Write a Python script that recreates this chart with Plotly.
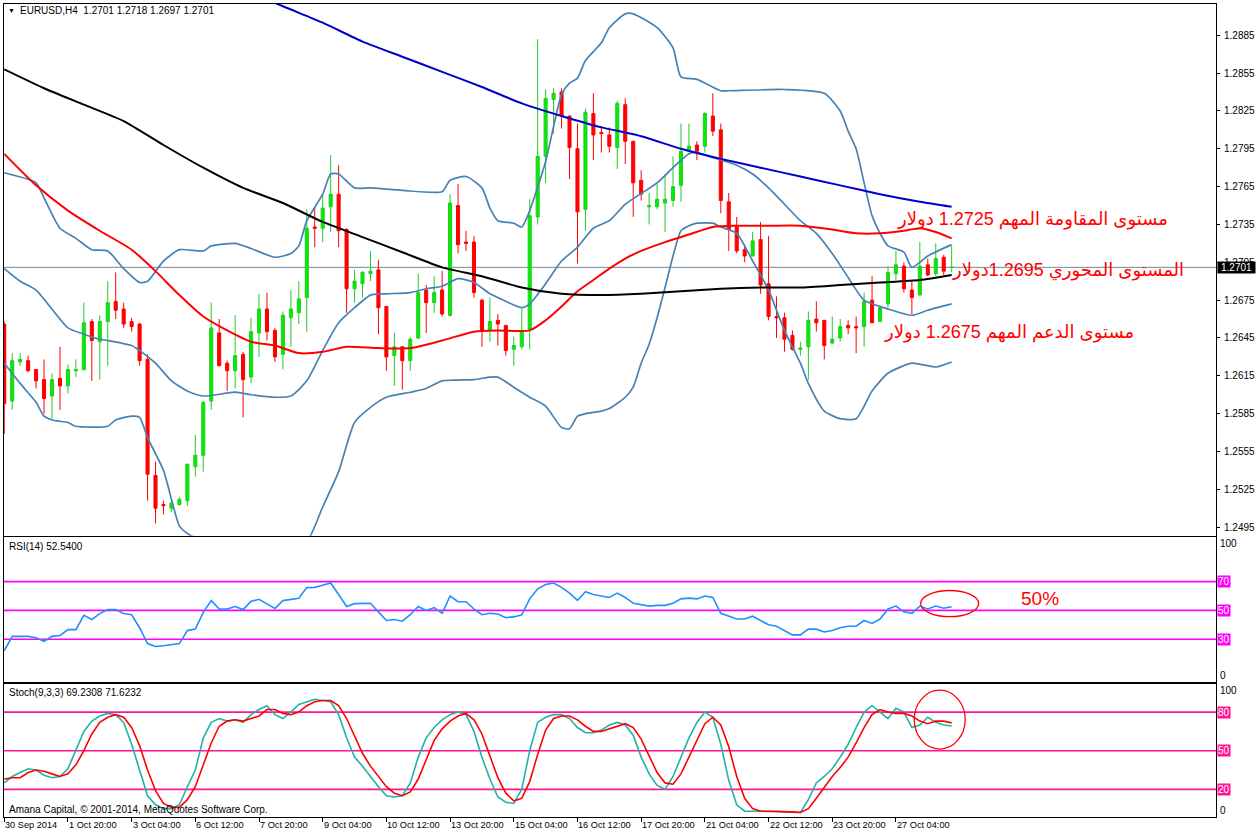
import plotly.graph_objects as go

# ---------------- data ----------------
bars = list(range(120))
opens = [1.2656,1.2595,1.2626,1.2627,1.2620,1.2612,1.2599,1.2613,1.2607,1.2619,
1.2620,1.2658,1.2642,1.2658,1.2674,1.2668,1.2658,1.2656,1.2628,1.2536,
1.2513,1.2510,1.2513,1.2516,1.2543,1.2552,1.2595,1.2649,1.2625,1.2619,
1.2632,1.2614,1.2649,1.2668,1.2651,1.2632,1.2661,1.2665,1.2677,1.2733,
1.2732,1.2749,1.2759,1.2731,1.2684,1.2688,1.2696,1.2699,1.2670,1.2631,
1.2638,1.2627,1.2645,1.2683,1.2673,1.2683,1.2663,1.2750,1.2721,1.2721,
1.2675,1.2651,1.2659,1.2655,1.2636,1.2638,1.2652,1.2741,1.2789,1.2834,
1.2840,1.2821,1.2795,1.2747,1.2823,1.2808,1.2806,1.2796,1.2830,1.2801,
1.2770,1.2749,1.2749,1.2752,1.2754,1.2766,1.2793,1.2798,1.2797,1.2821,
1.2810,1.2753,1.2733,1.2715,1.2710,1.2723,1.2688,1.2662,1.2661,1.2647,
1.2636,1.2638,1.2660,1.2659,1.2641,1.2645,1.2655,1.2654,1.2654,1.2675,
1.2658,1.2672,1.2696,1.2702,1.2683,1.2679,1.2703,1.2696,1.2709,1.2701]
highs = [1.2658,1.2633,1.2633,1.2631,1.2620,1.2628,1.2617,1.2638,1.2624,1.2628,
1.2673,1.2660,1.2663,1.2690,1.2697,1.2673,1.2661,1.2657,1.2632,1.2547,
1.2516,1.2518,1.2519,1.2545,1.2568,1.2595,1.2673,1.2660,1.2627,1.2663,
1.2634,1.2661,1.2680,1.2681,1.2653,1.2666,1.2683,1.2690,1.2747,1.2749,
1.2759,1.2790,1.2782,1.2732,1.2699,1.2698,1.2714,1.2707,1.2670,1.2649,
1.2638,1.2646,1.2696,1.2687,1.2694,1.2698,1.2759,1.2767,1.2730,1.2726,
1.2676,1.2677,1.2664,1.2655,1.2646,1.2668,1.2755,1.2882,1.2842,1.2843,
1.2843,1.2821,1.2815,1.2827,1.2839,1.2813,1.2812,1.2833,1.2835,1.2801,
1.2778,1.2760,1.2768,1.2775,1.2789,1.2815,1.2815,1.2801,1.2824,1.2839,
1.2815,1.2760,1.2741,1.2719,1.2729,1.2737,1.2726,1.2678,1.2665,1.2651,
1.2642,1.2666,1.2674,1.2659,1.2662,1.2660,1.2659,1.2662,1.2681,1.2694,
1.2671,1.2702,1.2714,1.2705,1.2691,1.2721,1.2708,1.2720,1.2711,1.2718]
lows = [1.2569,1.2588,1.2623,1.2618,1.2605,1.2585,1.2581,1.2588,1.2601,1.2614,
1.2619,1.2611,1.2612,1.2623,1.2660,1.2653,1.2650,1.2623,1.2516,1.2498,
1.2505,1.2507,1.2512,1.2512,1.2535,1.2539,1.2588,1.2623,1.2603,1.2605,
1.2582,1.2609,1.2630,1.2643,1.2626,1.2620,1.2638,1.2656,1.2650,1.2717,
1.2721,1.2729,1.2717,1.2665,1.2673,1.2677,1.2690,1.2648,1.2619,1.2607,
1.2604,1.2619,1.2644,1.2649,1.2665,1.2662,1.2662,1.2712,1.2714,1.2677,
1.2638,1.2642,1.2639,1.2631,1.2623,1.2636,1.2636,1.2735,1.2768,1.2807,
1.2811,1.2771,1.2704,1.2730,1.2786,1.2792,1.2792,1.2779,1.2783,1.2741,
1.2754,1.2735,1.2747,1.2729,1.2749,1.2753,1.2792,1.2786,1.2792,1.2805,
1.2744,1.2714,1.2712,1.2705,1.2710,1.2680,1.2659,1.2645,1.2634,1.2635,
1.2631,1.2612,1.2650,1.2628,1.2640,1.2642,1.2648,1.2633,1.2638,1.2657,
1.2658,1.2669,1.2691,1.2681,1.2664,1.2679,1.2694,1.2694,1.2695,1.2697]
closes = [1.2593,1.2627,1.2628,1.2619,1.2611,1.2597,1.2612,1.2607,1.2620,1.2620,
1.2657,1.2643,1.2658,1.2673,1.2667,1.2656,1.2654,1.2627,1.2537,1.2510,
1.2512,1.2514,1.2517,1.2545,1.2552,1.2594,1.2653,1.2623,1.2619,1.2631,
1.2612,1.2650,1.2668,1.2650,1.2630,1.2663,1.2668,1.2676,1.2732,1.2732,
1.2748,1.2759,1.2730,1.2684,1.2690,1.2697,1.2698,1.2669,1.2630,1.2638,
1.2627,1.2644,1.2681,1.2673,1.2681,1.2664,1.2752,1.2719,1.2720,1.2681,
1.2651,1.2658,1.2656,1.2635,1.2639,1.2651,1.2742,1.2789,1.2835,1.2839,
1.2821,1.2796,1.2745,1.2824,1.2806,1.2807,1.2797,1.2831,1.2801,1.2768,
1.2759,1.2750,1.2755,1.2755,1.2765,1.2793,1.2797,1.2793,1.2823,1.2809,
1.2754,1.2731,1.2714,1.2710,1.2722,1.2687,1.2662,1.2661,1.2644,1.2636,
1.2637,1.2659,1.2657,1.2639,1.2644,1.2654,1.2653,1.2653,1.2674,1.2657,
1.2669,1.2697,1.2703,1.2684,1.2677,1.2702,1.2695,1.2708,1.2698,1.2701]

# moving averages (bar index, price)
ma_blue_x = [28,35,40,45,50,55,60,65,70,75,80,85,90,95,100,105,110,115,119]
ma_blue = [1.2927,1.2908,1.2895,1.2880,1.2868,1.2856,1.2844,1.2831,1.2821,1.2812,
           1.2805,1.2795,1.2787,1.2780,1.2773,1.2766,1.2759,1.2753,1.2749]
ma_black_x = [0,5,10,15,20,25,30,35,40,45,50,55,60,65,70,75,80,85,90,95,100,105,110,115,119]
ma_black = [1.2858,1.2843,1.2830,1.2817,1.2798,1.2780,1.2764,1.2752,1.2737,1.2725,
            1.2713,1.2701,1.2694,1.2685,1.2680,1.2679,1.2680,1.2682,1.2684,1.2685,
            1.2685,1.2687,1.2689,1.2691,1.2695]
ma_red_x = [0,4,8,12,16,19,22,25,28,31,34,37,40,43,47,51,55,59,62,66,68,70,72,74,76,78,
            80,83,86,89,92,96,100,104,107,110,113,115,117,119]
ma_red = [1.2791,1.2766,1.2746,1.2730,1.2715,1.2698,1.2679,1.2662,1.2651,1.2642,1.2639,
          1.2633,1.2634,1.2638,1.2637,1.2637,1.2643,1.2650,1.2651,1.2651,1.2659,1.2670,
          1.2682,1.2691,1.2700,1.2708,1.2714,1.2721,1.2727,1.2733,1.2734,1.2734,1.2734,
          1.2731,1.2728,1.2728,1.2730,1.2732,1.2729,1.2724]

# Bollinger bands (20)
bb_up_x = [0,4,5,7,9,11,13,15,17,18,20,22,25,26,29,31,34,36,37,38,40,41,42,44,46,50,55,56,
           58,60,61,62,64,65,66,68,70,71,72,73,75,76,78,79,82,84,85,87,90,91,98,103,105,106,
           107,108,109,110,111,113,114,116,119]
bb_up = [1.2776,1.2768,1.2756,1.2732,1.2724,1.2715,1.2714,1.2700,1.2689,1.2690,1.2706,
         1.2715,1.2714,1.2718,1.2720,1.2716,1.2709,1.2712,1.2718,1.2738,1.2759,1.2775,
         1.2775,1.2764,1.2764,1.2762,1.2761,1.2770,1.2773,1.2764,1.2748,1.2738,1.2736,
         1.2733,1.2746,1.2785,1.2838,1.2847,1.2851,1.2865,1.2879,1.2891,1.2902,1.2902,
         1.2891,1.2875,1.2852,1.2850,1.2841,1.2841,1.2842,1.2839,1.2825,1.2809,1.2795,
         1.2768,1.2742,1.2728,1.2718,1.2713,1.2701,1.2710,1.2719]
bb_mid_x = [0,2,4,8,10,12,13,16,17,19,21,23,25,29,31,34,36,38,40,42,44,46,48,51,53,55,57,
            59,61,62,65,66,68,70,72,74,76,78,82,84,86,87,89,92,94,96,98,100,102,104,106,108,
            111,114,116,119]
bb_mid = [1.2700,1.2690,1.2683,1.2653,1.2648,1.2644,1.2643,1.2639,1.2635,1.2625,1.2611,
          1.2603,1.2599,1.2602,1.2600,1.2598,1.2599,1.2611,1.2635,1.2657,1.2669,1.2679,
          1.2680,1.2681,1.2684,1.2686,1.2692,1.2689,1.2680,1.2677,1.2669,1.2672,1.2688,
          1.2706,1.2717,1.2732,1.2738,1.2751,1.2768,1.2780,1.2791,1.2792,1.2788,1.2782,
          1.2775,1.2764,1.2751,1.2738,1.2728,1.2712,1.2693,1.2675,1.2668,1.2663,1.2667,
          1.2672]
bb_lo_x = [0,2,4,5,6,8,9,13,14,16,17,18,20,22,23,25,29,31,34,36,38,40,42,44,46,48,51,53,
           55,59,61,62,64,66,68,70,71,72,73,75,76,78,79,80,81,82,83,84,85,86,87,89,90,92,94,
           96,98,100,101,103,105,107,109,111,114,117,119]
bb_lo = [1.2625,1.2609,1.2594,1.2583,1.2580,1.2578,1.2575,1.2575,1.2580,1.2583,1.2582,
         1.2566,1.2540,1.2496,1.2490,1.2484,1.2484,1.2484,1.2487,1.2486,1.2484,1.2511,
         1.2539,1.2578,1.2590,1.2598,1.2602,1.2605,1.2611,1.2612,1.2614,1.2614,1.2606,
         1.2598,1.2591,1.2574,1.2573,1.2583,1.2585,1.2587,1.2589,1.2598,1.2606,1.2625,
         1.2640,1.2661,1.2685,1.2710,1.2730,1.2734,1.2736,1.2736,1.2733,1.2728,1.2706,
         1.2683,1.2651,1.2625,1.2609,1.2587,1.2581,1.2581,1.2603,1.2617,1.2625,1.2622,
         1.2626]

rsi = [22,32,32,32,31,28.6,32,32.6,36.7,36.7,
       46.6,43.7,47.8,50.6,50.6,47.8,47,38,27,25,
       25.5,26,27,36,37,48.7,56.8,51,51,52.7,
       50.6,56.3,57.7,54.5,51.3,56.8,57.5,58.4,65.8,66,
       67.5,69,61,52.7,54.7,55,55,49,43,43.7,
       42.5,47,52.7,50,52,48,60,56,56,51,
       47,48,47.5,45,45.5,47,58,65,68,69,
       66,62,57,63,61,60,59,62,59,55,
       54,53,53.5,53.5,55,58,58.5,58,60,59,
       48,46,44,44,46,43,40,39,36,33,
       33,37,37,35,36,38,39,39,43,41,
       44,51,53,49,48,53,51,53,51.5,52.54]
stoch_k = [25,30,33,36,35,31,29,30,36,50,
           65,73,77,79,78,72,55,35,15,8,
           5,5,8,22,35,60,72,75,73,74,
           72,78,82,85,78,75,80,86,88,90,
           89,88,78,60,45,38,30,22,15,14,
           15,25,45,60,68,74,78,80,78,65,
           45,28,14,10,9,20,50,72,76,78,
           78,75,68,64,64,66,70,72,70,62,
           45,32,23,20,30,45,60,72,80,76,
           55,27,8,3,3,3.5,3,3,2.5,2,
           2,12,25,30,36,45,55,68,80,85,
           80,75,83,80,68,70,76,72,70,69.23]
stoch_d = [28,29,29,33,35,34,32,30,32,39,
           50,63,72,76,78,76,68,54,35,19,
           9,6,6,12,22,39,56,69,73,74,
           73,75,77,82,82,79,78,80,85,88,
           89,89,85,75,61,48,38,30,22,17,
           15,18,28,43,58,67,73,77,79,74,
           63,46,29,17,11,13,26,47,66,75,
           77,77,74,69,65,65,67,69,71,68,
           59,46,33,25,24,32,45,59,71,76,
           70,53,30,13,5,3,3,3,3,2.5,
           2,5,13,22,30,37,45,56,68,78,
           82,80,79,79,77,73,71,73,73,71.62]

rsi_levels = [70, 50, 30]
stoch_levels = [80, 50, 20]
price_ticks = [1.2495,1.2525,1.2555,1.2585,1.2615,1.2645,1.2675,1.2705,1.2735,
               1.2765,1.2795,1.2825,1.2855,1.2885]
time_tick_bars = [0,8,16,24,32,40,48,56,64,72,80,88,96,104,112]
time_tick_labels = ["30 Sep 2014","1 Oct 20:00","3 Oct 04:00","6 Oct 12:00","7 Oct 20:00",
                    "9 Oct 04:00","10 Oct 12:00","13 Oct 20:00","15 Oct 04:00","16 Oct 12:00",
                    "17 Oct 20:00","21 Oct 04:00","22 Oct 12:00","23 Oct 20:00","27 Oct 04:00"]
notes = ["مستوى المقاومة المهم 1.2725 دولار",
         "المستوى المحوري 1.2695دولار",
         "مستوى الدعم المهم 1.2675 دولار"]

# ---------------- figure ----------------
SMALL = "Liberation Sans Narrow, Liberation Sans, Arial, sans-serif"
AR = "Arial, DejaVu Sans, sans-serif"

fig = go.Figure()
fig.add_trace(go.Candlestick(
    x=bars, open=opens, high=highs, low=lows, close=closes,
    increasing=dict(line=dict(color="#22CC22", width=1), fillcolor="#00F000"),
    decreasing=dict(line=dict(color="#FF0000", width=1), fillcolor="#FF0000"),
    whiskerwidth=0, xaxis="x", yaxis="y", hoverinfo="skip", showlegend=False))

for xs, ys, col, w in [(bb_up_x, bb_up, "#4682B4", 1.7), (bb_mid_x, bb_mid, "#4682B4", 1.7),
                       (bb_lo_x, bb_lo, "#4682B4", 1.7),
                       (ma_red_x, ma_red, "#FF0000", 2), (ma_black_x, ma_black, "#000000", 2),
                       (ma_blue_x, ma_blue, "#0000CD", 2)]:
    fig.add_trace(go.Scatter(x=xs, y=ys, mode="lines", line=dict(color=col, width=w, shape="spline", smoothing=0.6),
                             xaxis="x", yaxis="y", hoverinfo="skip", showlegend=False))

fig.add_trace(go.Scatter(x=bars, y=rsi, mode="lines", line=dict(color="#1E90FF", width=1.6),
                         xaxis="x2", yaxis="y2", hoverinfo="skip", showlegend=False))
fig.add_trace(go.Scatter(x=bars, y=stoch_k, mode="lines", line=dict(color="#20B2AA", width=1.6),
                         xaxis="x3", yaxis="y3", hoverinfo="skip", showlegend=False))
fig.add_trace(go.Scatter(x=bars, y=stoch_d, mode="lines", line=dict(color="#FF0000", width=1.6),
                         xaxis="x3", yaxis="y3", hoverinfo="skip", showlegend=False))

shapes = []
shapes.append(dict(type="line", xref="x domain", x0=0, x1=1, yref="y", y0=closes[-1], y1=closes[-1],
                   line=dict(color="#778899", width=1), layer="below"))
for lv in rsi_levels:
    shapes.append(dict(type="line", xref="x2 domain", x0=0, x1=1, yref="y2", y0=lv, y1=lv,
                       line=dict(color="#FF00FF", width=1.6), layer="below"))
for lv in stoch_levels:
    shapes.append(dict(type="line", xref="x3 domain", x0=0, x1=1, yref="y3", y0=lv, y1=lv,
                       line=dict(color="#FF1493", width=1.6), layer="below"))
# hand-drawn red ellipses
shapes.append(dict(type="circle", xref="x2", yref="y2", x0=115.1, x1=122.4, y0=45.7, y1=63.8,
                   line=dict(color="#FF0000", width=1.3)))
shapes.append(dict(type="circle", xref="x3", yref="y3", x0=114.3, x1=120.7, y0=51.3, y1=97.0,
                   line=dict(color="#FF0000", width=1.3)))

ann = []
def txt(text, x, y, xref="paper", yref="paper", xanchor="left", yanchor="middle", size=10,
        color="#000000", family=SMALL, bg=None, **kw):
    d = dict(text=text, x=x, y=y, xref=xref, yref=yref, xanchor=xanchor, yanchor=yanchor,
             showarrow=False, font=dict(size=size, color=color, family=family), borderpad=0, **kw)
    if bg:
        d["bgcolor"] = bg
    ann.append(d)

txt("▼", 0.0025, 0.9914, size=7)
txt("EURUSD,H4\u00a0\u00a01.2701 1.2718 1.2697 1.2701", 0.0124, 0.9914, size=10)
txt("RSI(14) 52.5400", 0.0033, 0.3329, size=10)
txt("Stoch(9,3,3) 69.2308 71.6232", 0.0033, 0.1536, size=10)
txt("Amana Capital, © 2001-2014, MetaQuotes Software Corp.", 0.0033, 0.0098, size=10)

# right-side labels
txt("1.2701", 1.0, closes[-1], yref="y", xshift=1, color="#FFFFFF", bg="#000000", width=37,
    align="center", size=10)
for lv in rsi_levels:
    txt(str(lv), 1.0, lv, yref="y2", xshift=1, color="#FFFFFF", bg="#FF00FF", size=10)
for lv in stoch_levels:
    txt(str(lv), 1.0, lv, yref="y3", xshift=1, color="#FFFFFF", bg="#FF1493", size=10)
txt("100", 1.0, 100.7, yref="y2", yanchor="top", xshift=3)
txt("0", 1.0, 0.2, yref="y2", yanchor="bottom", xshift=3)
txt("100", 1.0, 101.7, yref="y3", yanchor="top", xshift=3)
txt("0", 1.0, -1.5, yref="y3", yanchor="bottom", xshift=3)

for b, lab in zip(time_tick_bars, time_tick_labels):
    txt(lab, b, 0, xref="x3", yanchor="top", yshift=-2, size=9.2)

# Arabic notes
txt(notes[0], 0.9613, 0.7346, xanchor="right", size=18, color="#FF0000", family=AR)
txt(notes[1], 0.9745, 0.6720, xanchor="right", size=18, color="#FF0000", family=AR)
txt(notes[2], 0.9334, 0.5958, xanchor="right", size=18, color="#FF0000", family=AR)
txt("50%", 0.8380, 0.2690, size=19, color="#FF0000", family="Arial, Liberation Sans, sans-serif")

xr = [-0.03, 152.2]
axline = dict(showline=True, linecolor="#000000", linewidth=1, mirror=True, showgrid=False, zeroline=False)
fig.update_layout(
    width=1258, height=835, margin=dict(l=3, r=39, t=3, b=18),
    paper_bgcolor="#FFFFFF", plot_bgcolor="#FFFFFF", showlegend=False,
    font=dict(family=SMALL, size=10, color="#000000"),
    boxgap=0.45, hovermode=False,
    xaxis=dict(domain=[0, 1], anchor="y", range=xr, showticklabels=False, ticks="",
               rangeslider=dict(visible=False), **axline),
    xaxis2=dict(domain=[0, 1], anchor="y2", range=xr, matches="x", showticklabels=False, ticks="", **axline),
    xaxis3=dict(domain=[0, 1], anchor="y3", range=xr, matches="x", showticklabels=False,
                ticks="outside", ticklen=4, tickcolor="#000000", tickvals=time_tick_bars, **axline),
    yaxis=dict(domain=[0.3458, 1.0], anchor="x", side="right", range=[1.24881, 1.29098],
               tickvals=price_ticks, ticktext=[f"{v:.4f}" for v in price_ticks],
               ticks="outside", ticklen=3, tickcolor="#000000", ticklabelstandoff=2,
               tickfont=dict(size=10, family=SMALL), **axline),
    yaxis2=dict(domain=[0.1658, 0.3440], anchor="x2", side="right", range=[0.2, 100.7],
                showticklabels=False, ticks="", **axline),
    yaxis3=dict(domain=[0.0, 0.1634], anchor="x3", side="right", range=[-1.5, 101.7],
                showticklabels=False, ticks="", **axline),
    shapes=shapes, annotations=ann,
)
fig.write_html("out.html")
